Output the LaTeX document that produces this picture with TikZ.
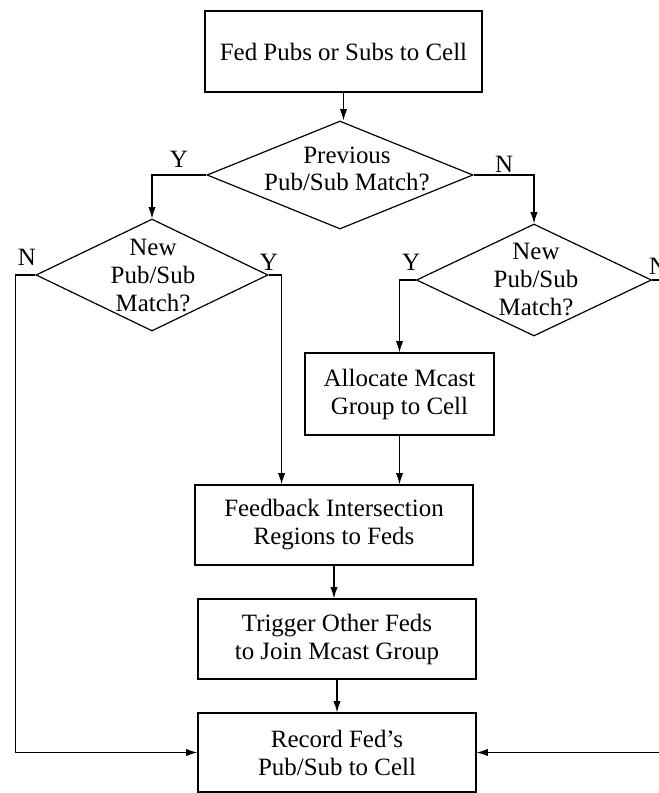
\documentclass[tikz,border=0pt]{standalone}
\usepackage{fontspec}
\setmainfont{Liberation Serif}
\usetikzlibrary{shapes.geometric,arrows.meta}
\begin{document}
\begin{tikzpicture}[x=0.75pt,y=-0.75pt,
  fnt/.style={font=\fontsize{18.7}{21}\selectfont},
  box/.style={draw, line width=0.9pt, rectangle, inner sep=0pt, align=center, fnt},
  dia/.style={draw, line width=0.9pt, diamond, inner sep=0pt},
  txt/.style={align=center, inner sep=0pt, fnt},
  lbl/.style={inner sep=0pt, fnt},
  arr/.style={line width=0.9pt, -{Latex[length=8.5pt,width=5.5pt]}},
  ln/.style={line width=0.9pt}]
\useasboundingbox (0,0) rectangle (659,793);
\clip (0,0) rectangle (659,793);

% boxes
\node[box, minimum width=207.75pt, minimum height=60.75pt] (top) at (343.5,51.5) {Fed Pubs or Subs to Cell};
\node[box, minimum width=141.75pt, minimum height=61.5pt] (alloc) at (399.5,394) {Allocate Mcast\\Group to Cell};
\node[box, minimum width=208.5pt, minimum height=60pt] (fb) at (334,525) {Feedback Intersection\\Regions to Feds};
\node[box, minimum width=208.5pt, minimum height=60pt] (trig) at (337,639) {Trigger Other Feds\\to Join Mcast Group};
\node[box, minimum width=208.5pt, minimum height=59.25pt] (rec) at (337,752.5) {Record Fed's\\Pub/Sub to Cell};

% diamonds
\node[dia, minimum width=199.5pt, minimum height=81pt] (d1) at (340,175) {};
\node[txt, font=\fontsize{18.7}{20}\selectfont] (d1t) at (347,169) {Previous\\Pub/Sub Match?};
\node[dia, minimum width=174pt, minimum height=84pt] (d2) at (152,275) {};
\node[txt] (d2t) at (153,276) {New\\Pub/Sub\\Match?};
\node[dia, minimum width=176.25pt, minimum height=84pt] (d3) at (534,280) {};
\node[txt] (d3t) at (536,280) {New\\Pub/Sub\\Match?};

% labels
\node[lbl] (y1) at (179,159) {Y};
\node[lbl] (n1) at (504,164) {N};
\node[lbl] (n2) at (27,257) {N};
\node[lbl] (y2) at (269,262) {Y};
\node[lbl] (y3) at (411,262) {Y};
\node[lbl] (n3) at (658,266) {N};

% connectors
\draw[arr] (top.south) -- (top.south |- d1.north);
\draw[arr] (d1.west) -| (d2.north);
\draw[arr] (d1.east) -| (d3.north);
\draw[arr] (d2.west) -- ++(-20,0) |- (rec.west);
\draw[ln] (d2.east) -- ++(13,0) coordinate (c2);
\draw[arr] (c2) -- (c2 |- fb.north);
\draw[arr] (d3.west) -| (alloc.north);
\draw[arr] (alloc.south) -- (alloc.south |- fb.north);
\draw[arr] (fb.south) -- (fb.south |- trig.north);
\draw[arr] (trig.south) -- (trig.south |- rec.north);
\draw[arr] (d3.east) -- ++(30,0) |- (rec.east);
\end{tikzpicture}
\end{document}
